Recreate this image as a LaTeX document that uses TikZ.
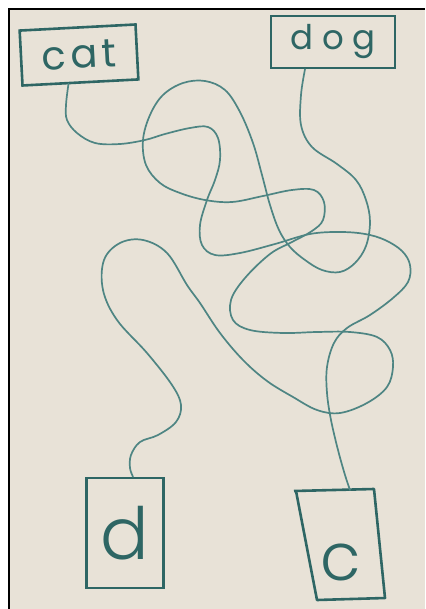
\documentclass[tikz,border=0pt]{standalone}
\usepackage{fontspec}
\setmainfont{Poppins}
\newfontfamily\thinhand{Poppins}[UprightFont=* Light]
\usetikzlibrary{calc}
\definecolor{paper}{HTML}{E8E2D7}
\definecolor{ink}{HTML}{2E6664}
\definecolor{wire}{HTML}{4E8583}
\begin{document}
\begin{tikzpicture}[x=1pt,y=-1pt,
  boxst/.style={draw=ink, line width=2.6pt, inner sep=0pt, text=ink},
  wirest/.style={draw=wire, line width=1.7pt, line cap=round, line join=round}]
\useasboundingbox (0,0) rectangle (425,609);
\fill[white] (0,0) rectangle (425,609);
\fill[paper] (9,9) rectangle (425,609);
\draw[black, line width=2pt] (9,609) -- (9,9) -- (425,9);

\node[boxst, rotate=3, minimum width=116pt, minimum height=55pt,
  font=\fontsize{40}{40}\selectfont\addfontfeature{LetterSpace=12}] (cat) at (79,55) {cat};
\node[boxst, minimum width=124pt, minimum height=52pt,
  font=\fontsize{34}{34}\selectfont\addfontfeature{LetterSpace=25}] (dog) at (333,42) {dog};
\node[boxst, minimum width=77pt, minimum height=110pt,
  font=\thinhand\fontsize{72}{72}\selectfont] (d) at (125,533) {d};
\node[inner sep=0pt, text=ink, font=\thinhand\fontsize{66}{66}\selectfont] (c) at (341,562) {c};
\draw[ink, line width=2.6pt, line join=round] (294,491) -- (374,489) -- (385,598) -- (317,600) -- (296,491);

\coordinate (catout) at ($(cat.south)+(-12,0)$);
\coordinate (dogout) at ($(dog.south)+(-28,0)$);
\coordinate (din) at ($(d.north)+(8,0)$);
\coordinate (cin) at (350,490);

% cat -> c
\draw[wirest] plot[smooth, tension=0.6] coordinates {(catout) (66,105) (67,120) (77,133) (95,143) (120,144) (145,140) (165,134) (190,128) (208,127) (218,138) (220,160) (215,180) (207,200) (200,225) (202,245) (215,255) (240,253) (275,244) (310,234) (340,232) (365,234) (385,240) (402,251) (410,265) (408,282) (393,298) (370,315) (347,328) (334,343) (327,367) (327,393) (331,420) (338,450) (345,475) (cin)};

% dog -> d
\draw[wirest] plot[smooth, tension=0.6] coordinates {(dogout) (301,95) (301,125) (312,147) (337,164) (356,180) (366,200) (370,222) (366,246) (355,263) (340,272) (322,270) (305,260) (290,247) (279,230) (270,205) (262,175) (253,143) (240,112) (225,90) (205,81) (183,83) (163,95) (150,115) (143,140) (146,165) (160,183) (180,193) (205,200) (232,202) (263,196) (292,190) (314,190) (324,202) (323,220) (312,231) (292,242) (270,254) (245,278) (231,300) (233,320) (250,330) (283,333) (317,332) (350,332) (377,337) (390,350) (393,367) (387,387) (367,403) (340,413) (317,410) (293,397) (267,381) (243,360) (220,333) (200,303) (187,285) (167,253) (143,240) (120,243) (104,260) (103,290) (117,320) (147,353) (172,385) (181,405) (176,422) (158,435) (140,442) (131,455) (130,468) (din)};
\end{tikzpicture}
\end{document}
